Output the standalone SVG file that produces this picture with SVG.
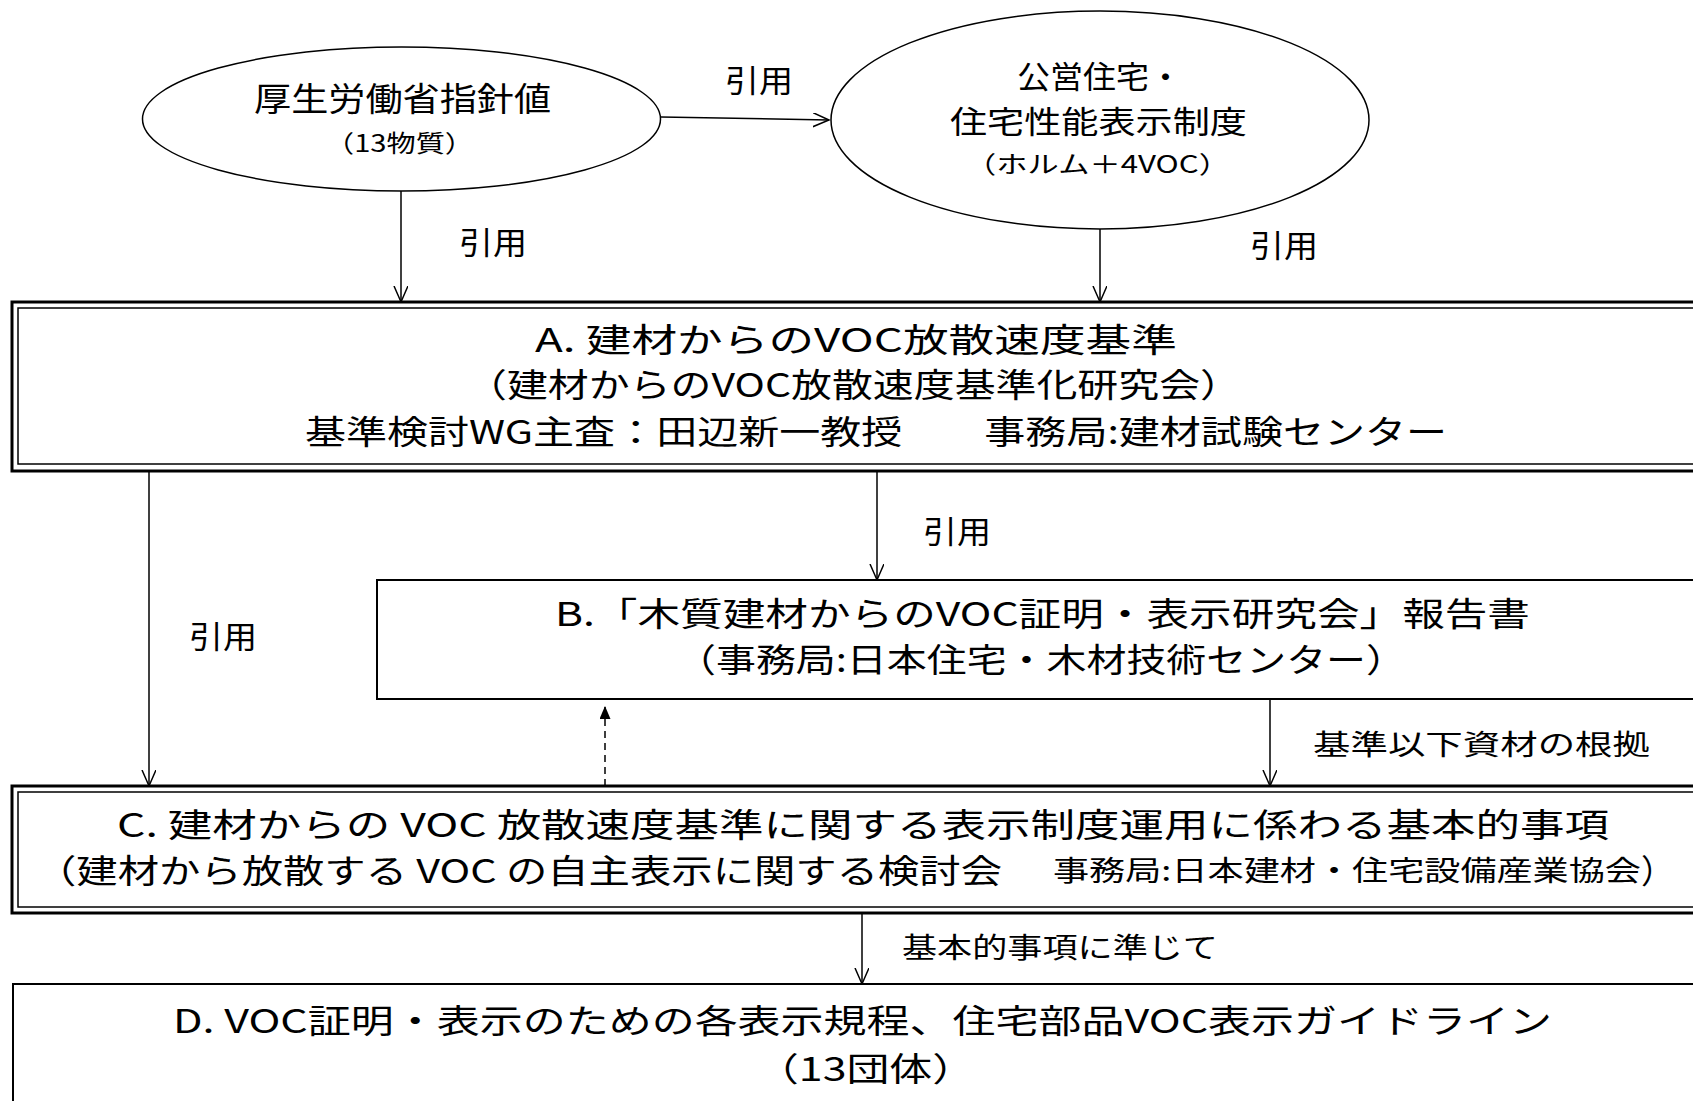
<svg xmlns="http://www.w3.org/2000/svg" width="1693" height="1101" viewBox="0 0 1693 1101">
<style>
text{font-family:"Noto Sans CJK JP","Noto Sans CJK SC",sans-serif;fill:#000;}
.t33{font-size:33px;}
.t31{font-size:31px;}
.t28{font-size:28px;}
.t24{font-size:24px;}
.shape{fill:#fff;stroke:#000;}
.conn{stroke:#000;stroke-width:1.5;fill:none;}
</style>
<defs>
<marker id="open" markerUnits="userSpaceOnUse" markerWidth="20" markerHeight="20" refX="16" refY="7" orient="auto">
<path d="M0,0 L16,7 L0,14" fill="none" stroke="#000" stroke-width="1.5"/>
</marker>
<marker id="solid" markerUnits="userSpaceOnUse" markerWidth="16" markerHeight="16" refX="13" refY="5.5" orient="auto">
<path d="M0,0 L13,5.5 L0,11 Z" fill="#000"/>
</marker>
</defs>
<rect width="1693" height="1101" fill="#fff"/>

<g id="connectors">
<line class="conn" x1="661" y1="117" x2="829" y2="120" marker-end="url(#open)"/>
<line class="conn" x1="401" y1="191" x2="401" y2="302" marker-end="url(#open)"/>
<line class="conn" x1="1100" y1="229" x2="1100" y2="302" marker-end="url(#open)"/>
<line class="conn" x1="877" y1="471" x2="877" y2="580" marker-end="url(#open)"/>
<line class="conn" x1="149" y1="471" x2="149" y2="786" marker-end="url(#open)"/>
<line class="conn" x1="1270" y1="699" x2="1270" y2="786" marker-end="url(#open)"/>
<line class="conn" x1="605" y1="786" x2="605" y2="706" stroke-dasharray="7,5" marker-end="url(#solid)"/>
<line class="conn" x1="862" y1="913" x2="862" y2="984" marker-end="url(#open)"/>
<text class="t31" x="725" y="92" textLength="68" lengthAdjust="spacingAndGlyphs">引用</text>
<text class="t31" x="459" y="254" textLength="68" lengthAdjust="spacingAndGlyphs">引用</text>
<text class="t31" x="1250" y="257" textLength="68" lengthAdjust="spacingAndGlyphs">引用</text>
<text class="t31" x="923" y="543" textLength="68" lengthAdjust="spacingAndGlyphs">引用</text>
<text class="t31" x="189" y="648" textLength="68" lengthAdjust="spacingAndGlyphs">引用</text>
<text class="t28" x="1313" y="755" textLength="337" lengthAdjust="spacingAndGlyphs">基準以下資材の根拠</text>
<text class="t28" x="902" y="958" textLength="316" lengthAdjust="spacingAndGlyphs">基本的事項に準じて</text>
</g>

<g id="node-mhlw">
<ellipse class="shape" cx="401.5" cy="119" rx="259" ry="72" stroke-width="1.5"/>
<text class="t33" x="254" y="111" textLength="297" lengthAdjust="spacingAndGlyphs">厚生労働省指針値</text>
<text class="t24" x="325" y="152" textLength="149" lengthAdjust="spacingAndGlyphs">（13物質）</text>
</g>

<g id="node-housing">
<ellipse class="shape" cx="1100" cy="120" rx="269" ry="109" stroke-width="1.5"/>
<text class="t31" x="1017" y="88" textLength="165" lengthAdjust="spacingAndGlyphs">公営住宅・</text>
<text class="t31" x="950" y="133" textLength="297" lengthAdjust="spacingAndGlyphs">住宅性能表示制度</text>
<text class="t24" x="965" y="173" textLength="265" lengthAdjust="spacingAndGlyphs">（ホルム＋4VOC）</text>
</g>

<g id="node-A">
<rect class="shape" x="12" y="302" width="1700" height="169" stroke-width="3"/>
<rect x="18" y="308" width="1700" height="156" fill="none" stroke="#000" stroke-width="1.5"/>
<text class="t33" x="535" y="352" textLength="642" lengthAdjust="spacingAndGlyphs">A. 建材からのVOC放散速度基準</text>
<text class="t33" x="466" y="397" textLength="775" lengthAdjust="spacingAndGlyphs">（建材からのVOC放散速度基準化研究会）</text>
<text class="t33" x="305" y="444" textLength="1142" lengthAdjust="spacingAndGlyphs">基準検討WG主査：田辺新一教授　　事務局:建材試験センター</text>
</g>

<g id="node-B">
<rect class="shape" x="377" y="580" width="1400" height="119" stroke-width="2"/>
<text class="t33" x="555" y="626" textLength="975" lengthAdjust="spacingAndGlyphs">B.「木質建材からのVOC証明・表示研究会」報告書</text>
<text class="t33" x="676" y="672" textLength="730" lengthAdjust="spacingAndGlyphs">（事務局:日本住宅・木材技術センター）</text>
</g>

<g id="node-C">
<rect class="shape" x="12" y="786" width="1700" height="127" stroke-width="3"/>
<rect x="18" y="792" width="1700" height="115" fill="none" stroke="#000" stroke-width="1.5"/>
<text class="t33" x="117" y="837" textLength="1492" lengthAdjust="spacingAndGlyphs">C. 建材からの VOC 放散速度基準に関する表示制度運用に係わる基本的事項</text>
<text class="t33" x="35" y="883" textLength="967" lengthAdjust="spacingAndGlyphs">（建材から放散する VOC の自主表示に関する検討会</text>
<text class="t28" x="1053" y="881" textLength="588" lengthAdjust="spacingAndGlyphs">事務局:日本建材・住宅設備産業協会</text>
<text class="t33" x="1641" y="883" textLength="33" lengthAdjust="spacingAndGlyphs">）</text>
</g>

<g id="node-D">
<rect class="shape" x="13" y="984" width="1700" height="200" stroke-width="2"/>
<text class="t33" x="173" y="1033" textLength="1379" lengthAdjust="spacingAndGlyphs">D. VOC証明・表示のための各表示規程、住宅部品VOC表示ガイドライン</text>
<text class="t33" x="756" y="1081" textLength="219" lengthAdjust="spacingAndGlyphs">（13団体）</text>
</g>
</svg>
